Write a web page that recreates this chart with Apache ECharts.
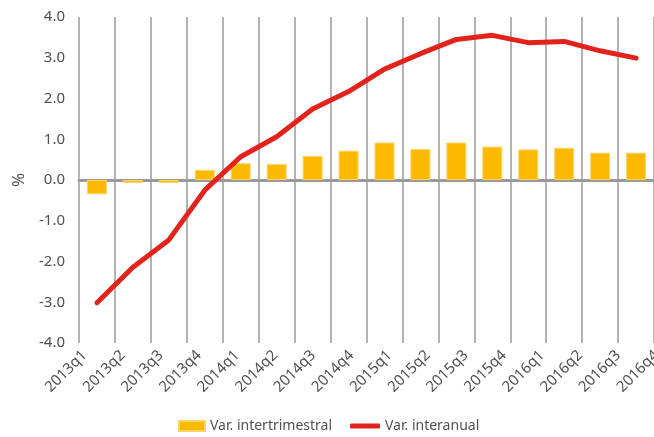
<!DOCTYPE html>
<html>
<head>
<meta charset="utf-8">
<script src="https://cdn.jsdelivr.net/npm/echarts@6/dist/echarts.min.js"></script>
<style>
  html, body { margin: 0; padding: 0; background: #ffffff; }
  #chart { width: 654px; height: 437px; }
</style>
</head>
<body>
<div id="chart"></div>
<script>
const categories = ['2013q1','2013q2','2013q3','2013q4','2014q1','2014q2','2014q3','2014q4',
                    '2015q1','2015q2','2015q3','2015q4','2016q1','2016q2','2016q3','2016q4'];
const intertrimestral = [-0.35, -0.07, -0.07, 0.25, 0.41, 0.39, 0.59, 0.72,
                         0.92, 0.76, 0.92, 0.82, 0.75, 0.79, 0.67, 0.67];
const interanual = [-3.01, -2.14, -1.47, -0.25, 0.57, 1.06, 1.74, 2.17,
                    2.72, 3.10, 3.45, 3.55, 3.37, 3.40, 3.17, 2.99];
const yTicks = { min: -4, max: 4, interval: 1 };
const seriesNames = ['Var. intertrimestral', 'Var. interanual'];

const FONT = '"Noto Sans", sans-serif';
const TXT = '#505050';

const chart = echarts.init(document.getElementById('chart'), null, { renderer: 'canvas' });
chart.setOption({
  animation: false,
  backgroundColor: '#ffffff',
  textStyle: { fontFamily: FONT },
  grid: [
    { left: 79, top: 17, width: 575, height: 326, outerBoundsMode: 'none', containLabel: false },
    { left: 65.5, top: 17, width: 610, height: 326, outerBoundsMode: 'none', containLabel: false }
  ],
  legend: [
    {
      data: [seriesNames[0]], left: 178, top: 419, icon: 'rect', padding: 0,
      itemWidth: 26, itemHeight: 10, itemGap: 0,
      textStyle: { fontFamily: FONT, fontSize: 14, color: TXT }
    },
    {
      data: [seriesNames[1]], left: 350, top: 419, icon: 'roundRect', padding: 0,
      itemWidth: 30, itemHeight: 5, itemGap: 0,
      textStyle: { fontFamily: FONT, fontSize: 14, color: TXT }
    }
  ],
  xAxis: [
    {
      type: 'category', gridIndex: 0, data: categories, boundaryGap: true,
      axisLine: { show: true, onZero: true, lineStyle: { color: '#9a9a9a', width: 3 } },
      axisTick: { show: false },
      axisLabel: { show: false, interval: 0 },
      splitLine: { show: true, interval: 0, lineStyle: { color: '#b3b3b3', width: 2 } }
    },
    {
      type: 'category', gridIndex: 1, data: categories, boundaryGap: true,
      axisLine: { show: false }, axisTick: { show: false }, splitLine: { show: false },
      axisLabel: { show: true, rotate: 45, interval: 0, margin: 10, hideOverlap: false,
                   fontFamily: FONT, fontSize: 15, color: TXT }
    }
  ],
  yAxis: [
    {
      type: 'value', gridIndex: 0, min: yTicks.min, max: yTicks.max, interval: yTicks.interval,
      name: '%', nameLocation: 'middle', nameRotate: 90, nameGap: 42,
      nameTextStyle: { fontFamily: FONT, fontSize: 17, color: TXT },
      axisLine: { show: false }, axisTick: { show: false },
      splitLine: { show: false },
      axisLabel: { margin: 14, fontFamily: FONT, fontSize: 15, color: TXT,
                   formatter: v => v.toFixed(1) }
    },
    {
      type: 'value', gridIndex: 1, min: yTicks.min, max: yTicks.max, interval: yTicks.interval,
      show: false
    }
  ],
  series: [
    {
      name: seriesNames[0], type: 'bar', xAxisIndex: 0, yAxisIndex: 0,
      data: intertrimestral, barWidth: 20,
      itemStyle: { color: '#FBB900', borderColor: '#FDD46A', borderWidth: 1 }
    },
    {
      name: seriesNames[1], type: 'line', xAxisIndex: 0, yAxisIndex: 0,
      data: interanual, showSymbol: false, symbol: 'none',
      lineStyle: { color: '#E3231B', width: 5, cap: 'round', join: 'round' },
      itemStyle: { color: '#E3231B' }
    }
  ]
});
</script>
</body>
</html>
